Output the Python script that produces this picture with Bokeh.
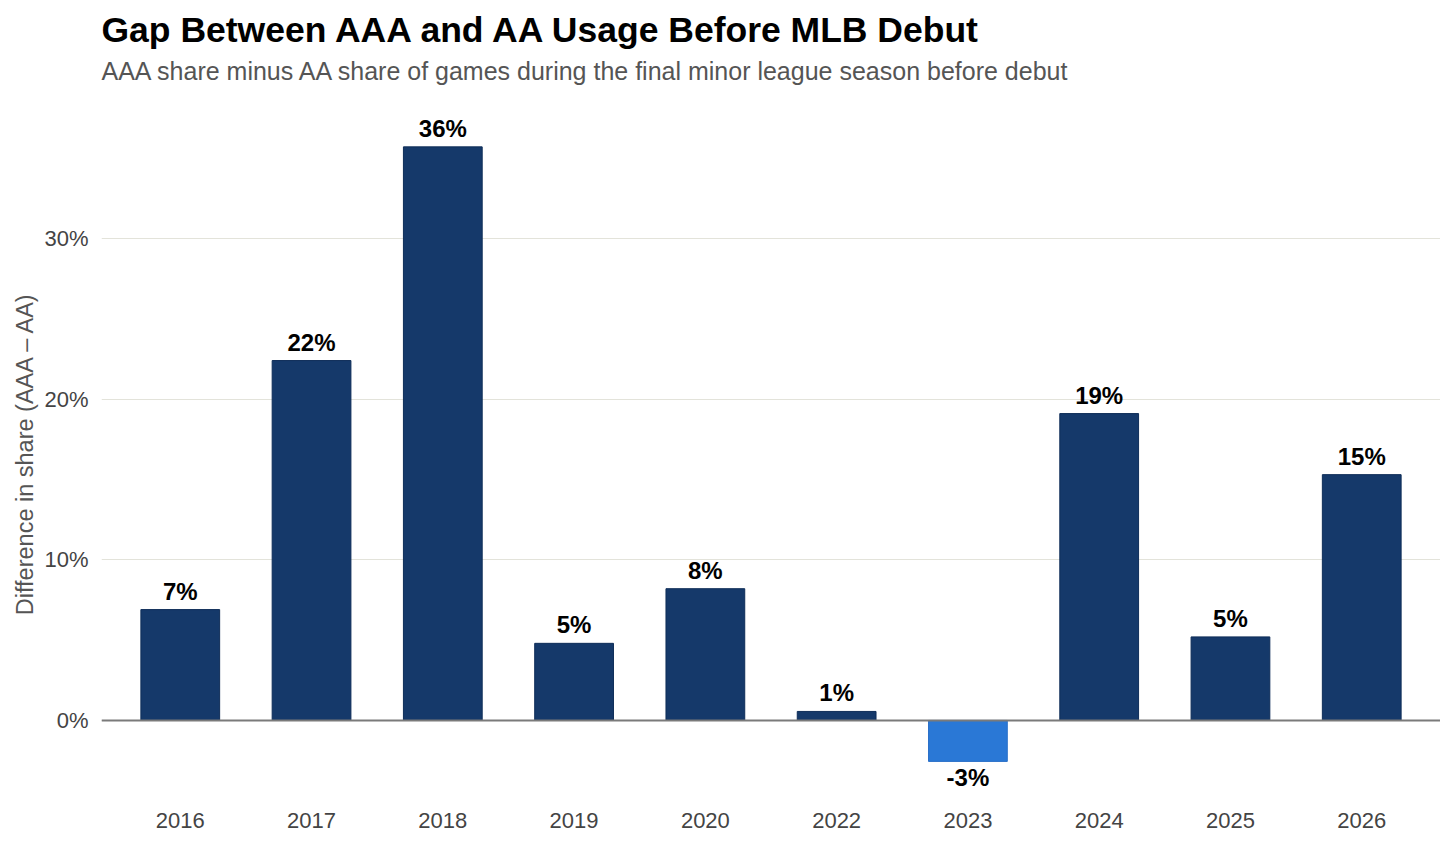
from bokeh.plotting import figure
from bokeh.models import ColumnDataSource, FactorRange, Range1d, Title, Span, FixedTicker, PrintfTickFormatter
from bokeh.core.properties import value
from bokeh.embed import file_html
from bokeh.resources import INLINE

years = ["2016", "2017", "2018", "2019", "2020", "2022", "2023", "2024", "2025", "2026"]
gap_pct = [6.9, 22.4, 35.7, 4.8, 8.2, 0.56, -2.55, 19.1, 5.2, 15.3]
y_ticks = [0, 10, 20, 30]
title_text = "Gap Between AAA and AA Usage Before MLB Debut"
subtitle_text = "AAA share minus AA share of games during the final minor league season before debut"
y_label = "Difference in share (AAA – AA)"

POS_COLOR = "#15396a"
NEG_COLOR = "#2a78d6"
FONT = "Liberation Sans"

colors = [POS_COLOR if v >= 0 else NEG_COLOR for v in gap_pct]
lines = ["#0e2d58" if v >= 0 else "#2a6fc8" for v in gap_pct]
labels = [f"{round(v):d}%" for v in gap_pct]

src = ColumnDataSource(dict(year=years, val=gap_pct, color=colors, line=lines))
pos = ColumnDataSource(dict(year=[y for y, v in zip(years, gap_pct) if v >= 0],
                            val=[v for v in gap_pct if v >= 0],
                            label=[l for l, v in zip(labels, gap_pct) if v >= 0]))
neg = ColumnDataSource(dict(year=[y for y, v in zip(years, gap_pct) if v < 0],
                            val=[v for v in gap_pct if v < 0],
                            label=[l for l, v in zip(labels, gap_pct) if v < 0]))

p = figure(width=1440, height=837, output_backend="svg", toolbar_location=None,
           x_range=FactorRange(*years, range_padding=0.1, range_padding_units="absolute"),
           y_range=Range1d(-4.36, 37.59),
           min_border_left=101, min_border_right=0, min_border_bottom=47, min_border_top=116)

p.title.text = title_text
p.title.text_font = FONT
p.title.text_font_size = "35.5px"
p.title.text_font_style = "bold"
p.title.text_color = "#000000"
p.title.offset = 0
p.title.standoff = 10

# spacer between subtitle and plot area, then subtitle
p.add_layout(Title(text=" ", text_font_size="1px", standoff=29), "above")
p.add_layout(Title(text=subtitle_text, text_font=FONT, text_font_size="25px",
                   text_font_style="normal", text_color="#555555", standoff=0, offset=0), "above")

p.vbar(x="year", top="val", bottom=0, width=0.6, source=src,
       fill_color="color", line_color="line", line_width=1)

p.add_layout(Span(location=0, dimension="width", line_color="#7a7a7a", line_width=2))

p.text(x="year", y="val", text="label", source=pos, text_align="center", text_baseline="bottom",
       y_offset=-5, text_font=value(FONT), text_font_size="24px", text_font_style="bold",
       text_color="#000000")
p.text(x="year", y="val", text="label", source=neg, text_align="center", text_baseline="top",
       y_offset=3, text_font=value(FONT), text_font_size="24px", text_font_style="bold",
       text_color="#000000")

p.outline_line_color = None
p.background_fill_color = "white"
p.border_fill_color = "white"
p.xgrid.grid_line_color = None
p.ygrid.grid_line_color = "#e3e3da"
p.ygrid.grid_line_width = 1
p.ygrid.ticker = FixedTicker(ticks=y_ticks)

p.yaxis.ticker = FixedTicker(ticks=y_ticks)
p.yaxis.formatter = PrintfTickFormatter(format="%d%%")
p.yaxis.axis_label = y_label
p.yaxis.axis_label_text_font = FONT
p.yaxis.axis_label_text_font_size = "23.5px"
p.yaxis.axis_label_text_font_style = "normal"
p.yaxis.axis_label_text_color = "#555555"
p.yaxis.axis_label_standoff = 3

for ax in (p.xaxis, p.yaxis):
    ax.axis_line_color = None
    ax.major_tick_line_color = None
    ax.minor_tick_line_color = None
    ax.major_tick_out = 0
    ax.major_tick_in = 0
    ax.major_label_text_font = FONT
    ax.major_label_text_font_size = "22px"
    ax.major_label_text_color = "#444444"
p.yaxis.major_label_standoff = 13
p.xaxis.major_label_standoff = 22

open("out.html", "w").write(file_html(p, INLINE))
